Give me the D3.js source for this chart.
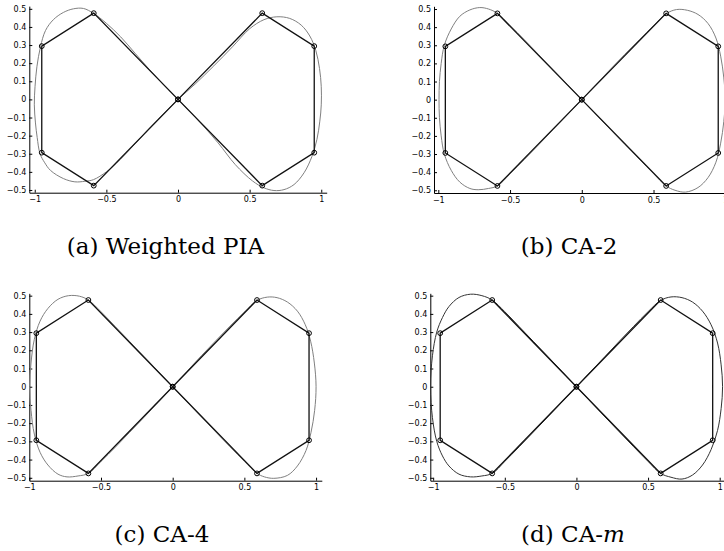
<!DOCTYPE html>
<html>
<head>
<meta charset="utf-8">
<script src="https://cdn.jsdelivr.net/npm/d3@7"></script>
<style>
body { margin: 0; background: #fff; }
</style>
</head>
<body>
<div class="plots"></div>
<script>
var width = 724
var height = 551

// control polygon (same in all four panels)
var ctrlX = [0, 0.588, 0.951, 0.951, 0.588, 0, -0.588, -0.951, -0.951, -0.588]
var ctrlY = [0, 0.476, 0.294, -0.294, -0.476, 0, 0.476, 0.294, -0.294, -0.476]

var xTicks = [-1, -0.5, 0, 0.5, 1]
var yTicks = [-0.5, -0.4, -0.3, -0.2, -0.1, 0, 0.1, 0.2, 0.3, 0.4, 0.5]

var captions = ['(a) Weighted PIA', '(b) CA-2', '(c) CA-4', '(d) CA-']
var captionItalic = ['', '', '', 'm']

// fitted curves
var curvePIA = [
    [0, 0], [0.12, 0.085], [0.25, 0.185], [0.38, 0.29], [0.5, 0.39], [0.6, 0.44], [0.69, 0.456],
    [0.78, 0.447], [0.86, 0.41], [0.92, 0.35], [0.962, 0.27], [0.988, 0.17], [1.0, 0.07], [1.0, -0.03],
    [0.99, -0.12], [0.97, -0.22], [0.935, -0.315], [0.88, -0.405], [0.81, -0.47], [0.74, -0.498],
    [0.67, -0.503], [0.6, -0.488], [0.52, -0.45], [0.4, -0.36], [0.28, -0.24], [0.14, -0.115],
    [0, 0], [-0.1, 0.08], [-0.2, 0.165], [-0.3, 0.255], [-0.4, 0.345], [-0.5, 0.42], [-0.59, 0.475],
    [-0.66, 0.502], [-0.73, 0.5], [-0.8, 0.48], [-0.87, 0.44], [-0.925, 0.38], [-0.96, 0.29],
    [-0.985, 0.18], [-0.998, 0.07], [-1.003, -0.03], [-0.995, -0.13], [-0.983, -0.21], [-0.963, -0.3],
    [-0.93, -0.35], [-0.89, -0.392], [-0.8, -0.437], [-0.72, -0.455], [-0.65, -0.452], [-0.59, -0.443],
    [-0.5, -0.4], [-0.43, -0.353], [-0.3, -0.245], [-0.19, -0.15], [-0.09, -0.07]
]

var curveCA2 = [
    [0, 0], [0.1, 0.085], [0.2, 0.168], [0.3, 0.25], [0.4, 0.33], [0.5, 0.408], [0.588, 0.474],
    [0.66, 0.497], [0.736, 0.493], [0.81, 0.47], [0.88, 0.42], [0.935, 0.34], [0.968, 0.24],
    [0.99, 0.12], [1.0, 0], [0.99, -0.12], [0.968, -0.24], [0.935, -0.345], [0.88, -0.43],
    [0.81, -0.485], [0.724, -0.51], [0.65, -0.5], [0.588, -0.476], [0.5, -0.408], [0.4, -0.328],
    [0.3, -0.247], [0.2, -0.165], [0.1, -0.083],
    [0, 0], [-0.1, 0.083], [-0.2, 0.166], [-0.3, 0.248], [-0.4, 0.33], [-0.5, 0.41], [-0.588, 0.476],
    [-0.65, 0.5], [-0.711, 0.508], [-0.78, 0.495], [-0.85, 0.46], [-0.91, 0.39], [-0.958, 0.3],
    [-0.98, 0.2], [-0.992, 0.1], [-0.995, 0], [-0.992, -0.1], [-0.98, -0.2], [-0.958, -0.3],
    [-0.91, -0.39], [-0.85, -0.455], [-0.78, -0.49], [-0.722, -0.497], [-0.65, -0.49], [-0.588, -0.476],
    [-0.5, -0.41], [-0.4, -0.33], [-0.3, -0.248], [-0.2, -0.166], [-0.1, -0.083]
]

var curveCA4 = [
    [0, 0], [0.1, 0.085], [0.2, 0.17], [0.3, 0.252], [0.4, 0.333], [0.5, 0.41], [0.588, 0.474],
    [0.66, 0.492], [0.728, 0.489], [0.8, 0.465], [0.87, 0.415], [0.925, 0.34], [0.962, 0.25],
    [0.988, 0.13], [1.0, 0], [0.99, -0.13], [0.965, -0.25], [0.93, -0.35], [0.87, -0.435],
    [0.8, -0.487], [0.705, -0.503], [0.64, -0.495], [0.588, -0.476], [0.5, -0.41], [0.4, -0.33],
    [0.3, -0.248], [0.2, -0.166], [0.1, -0.083],
    [0, 0], [-0.1, 0.083], [-0.2, 0.166], [-0.3, 0.248], [-0.4, 0.33], [-0.5, 0.412], [-0.588, 0.476],
    [-0.65, 0.497], [-0.726, 0.5], [-0.8, 0.48], [-0.87, 0.43], [-0.925, 0.36], [-0.965, 0.26],
    [-0.988, 0.13], [-0.998, 0], [-0.988, -0.13], [-0.965, -0.26], [-0.925, -0.36], [-0.87, -0.43],
    [-0.8, -0.48], [-0.737, -0.495], [-0.66, -0.49], [-0.588, -0.476], [-0.5, -0.41], [-0.4, -0.332],
    [-0.3, -0.25], [-0.2, -0.168], [-0.1, -0.085]
]

var curveCAm = [
    [0, 0], [0.1, 0.083], [0.2, 0.166], [0.3, 0.25], [0.4, 0.332], [0.5, 0.412], [0.588, 0.474],
    [0.66, 0.493], [0.737, 0.489], [0.81, 0.465], [0.88, 0.415], [0.94, 0.34], [0.985, 0.24],
    [1.01, 0.12], [1.02, 0], [1.01, -0.12], [0.985, -0.24], [0.94, -0.345], [0.88, -0.43],
    [0.81, -0.485], [0.737, -0.507], [0.66, -0.497], [0.588, -0.476], [0.5, -0.41], [0.4, -0.33],
    [0.3, -0.248], [0.2, -0.166], [0.1, -0.083],
    [0, 0], [-0.1, 0.083], [-0.2, 0.166], [-0.3, 0.248], [-0.4, 0.33], [-0.5, 0.412], [-0.588, 0.476],
    [-0.66, 0.5], [-0.739, 0.508], [-0.82, 0.49], [-0.89, 0.44], [-0.935, 0.38], [-0.975, 0.3],
    [-1.005, 0.17], [-1.018, 0], [-1.005, -0.17], [-0.975, -0.3], [-0.935, -0.38], [-0.89, -0.435],
    [-0.82, -0.48], [-0.739, -0.495], [-0.66, -0.49], [-0.588, -0.476], [-0.5, -0.41], [-0.4, -0.33],
    [-0.3, -0.248], [-0.2, -0.166], [-0.1, -0.083]
]

var curves = [curvePIA, curveCA2, curveCA4, curveCAm]

// pixel layout of the four panels
var panels = [
    { xlim: [-1.038, 1.038], xr: [29.3, 326.7], ylim: [-0.515, 0.515], yr: [192.7, 6.1], cx: 165.5, cy: 254.3, stroke: '#808080' },
    { xlim: [-1.03, 1.04], xr: [434, 731], ylim: [-0.515, 0.515], yr: [193.0, 6.3], cx: 569, cy: 254.3, stroke: '#808080' },
    { xlim: [-1.0, 1.04], xr: [29.3, 321.8], ylim: [-0.516, 0.513], yr: [480.7, 293.3], cx: 162, cy: 541.7, stroke: '#808080' },
    { xlim: [-1.02, 1.03], xr: [430.3, 724], ylim: [-0.516, 0.513], yr: [480.7, 293.3], cx: 573, cy: 541.7, stroke: '#333333' }
]

function drawPanel(svg, p, i) {
    var x = d3.scaleLinear().domain(p.xlim).range(p.xr)
    var y = d3.scaleLinear().domain(p.ylim).range(p.yr)
    var g = svg.append('g')

    var xAxis = g.append('g')
        .attr('transform', 'translate(0,' + p.yr[0] + ')')
        .call(d3.axisBottom(x).tickValues(xTicks).tickSizeInner(-3).tickSizeOuter(0)
            .tickPadding(4).tickFormat(d3.format('~g')))

    var yAxis = g.append('g')
        .attr('transform', 'translate(' + p.xr[0] + ',0)')
        .call(d3.axisLeft(y).tickValues(yTicks).tickSizeInner(-3).tickSizeOuter(0)
            .tickPadding(3).tickFormat(d3.format('~g')))

    g.selectAll('.domain, .tick line').attr('stroke', '#000').attr('stroke-width', 1)
    g.selectAll('.tick text')
        .attr('font-family', 'DejaVu Sans')
        .attr('font-size', 8)
        .attr('fill', '#000')

    var line = d3.line()
        .x(function (d) { return x(d[0]) })
        .y(function (d) { return y(d[1]) })

    // fitted curve
    g.append('path')
        .datum(curves[i])
        .attr('d', line.curve(d3.curveCatmullRomClosed.alpha(0.5)))
        .attr('fill', 'none')
        .attr('stroke', p.stroke)
        .attr('stroke-width', 1)

    // control polygon
    var pts = ctrlX.map(function (v, k) { return [v, ctrlY[k]] })
    g.append('path')
        .datum(pts)
        .attr('d', line.curve(d3.curveLinearClosed))
        .attr('fill', 'none')
        .attr('stroke', '#111')
        .attr('stroke-width', 1.3)

    g.selectAll('circle')
        .data(pts)
        .enter()
        .append('circle')
        .attr('cx', function (d) { return x(d[0]) })
        .attr('cy', function (d) { return y(d[1]) })
        .attr('r', 2.4)
        .attr('fill', 'none')
        .attr('stroke', '#000')
        .attr('stroke-width', 1)

    var cap = svg.append('text')
        .attr('x', p.cx)
        .attr('y', p.cy)
        .attr('text-anchor', 'middle')
        .attr('font-family', 'DejaVu Serif')
        .attr('font-size', 23)
        .attr('fill', '#000')
    cap.append('tspan').text(captions[i])
    if (captionItalic[i]) {
        cap.append('tspan').attr('font-style', 'italic').text(captionItalic[i])
    }
}

var svg = d3.select('.plots').append('svg')
    .attr('width', width)
    .attr('height', height)

panels.forEach(function (p, i) { drawPanel(svg, p, i) })
</script>
</body>
</html>
